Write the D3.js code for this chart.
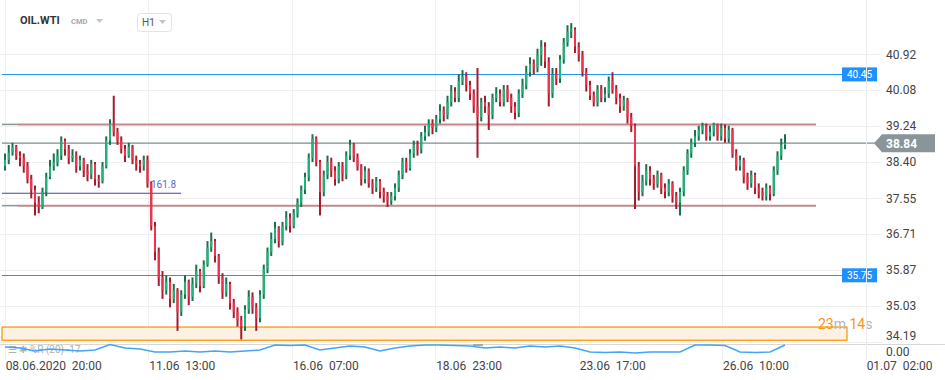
<!DOCTYPE html>
<html>
<head>
<meta charset="utf-8">
<script src="https://cdn.jsdelivr.net/npm/d3@7"></script>
<style>
    body { margin: 0; background: #fff; }
    svg { display: block; font-family: Roboto, "Open Sans", sans-serif; }
</style>
</head>
<body>
<svg id="chart" width="945" height="380"></svg>
<script>
// OIL.WTI H1 candles (open = previous close)
const firstOpen = 38.30;
const closes = [
    38.45, 38.62, 38.75, 38.55, 38.50, 38.30, 38.00, 37.75, 37.45, 37.35,
    37.70, 38.05, 38.30, 38.40, 38.55, 38.90, 38.70, 38.50, 38.55, 38.30,
    38.45, 38.20, 38.10, 38.35, 38.00, 37.95, 38.30, 38.90, 39.30, 39.10,
    38.90, 38.70, 38.55, 38.75, 38.45, 38.35, 38.30, 38.45, 37.90, 36.90,
    36.30, 35.70, 35.40, 35.60, 35.20, 35.40, 34.90, 35.30, 35.60, 35.25,
    35.55, 35.85, 35.50, 36.00, 36.40, 36.55, 36.20, 35.70, 35.35, 35.55,
    35.10, 34.90, 34.70, 34.55, 34.95, 35.25, 35.00, 34.75, 35.30, 35.90,
    36.30, 36.60, 36.85, 36.55, 36.90, 37.10, 36.90, 37.20, 37.45, 37.75,
    38.05, 38.50, 38.95, 38.40, 37.70, 38.10, 38.40, 38.20, 38.00, 38.30,
    38.10, 38.55, 38.80, 38.50, 38.30, 38.00, 38.20, 37.90, 37.80, 37.95,
    37.70, 37.60, 37.50, 37.60, 37.80, 38.10, 38.40, 38.25, 38.60, 38.80,
    38.70, 39.00, 39.10, 39.30, 39.20, 39.40, 39.60, 39.50, 39.80, 40.05,
    39.90, 40.30, 40.40, 40.20, 40.00, 39.70, 39.45, 39.80, 39.70, 39.50,
    39.90, 40.00, 39.80, 40.10, 39.90, 39.70, 39.55, 40.00, 40.20, 40.50,
    40.70, 40.60, 40.90, 41.10, 40.75, 40.00, 40.45, 40.35, 40.80, 41.20,
    41.45, 41.50, 41.10, 40.90, 40.50, 40.20, 39.95, 39.80, 40.10, 39.90,
    40.00, 40.30, 40.10, 39.90, 39.70, 39.85, 39.45, 39.25, 38.30, 37.70,
    37.95, 38.20, 38.00, 37.90, 38.10, 37.80, 37.70, 37.90, 37.60, 37.45,
    37.70, 38.20, 38.60, 38.85, 39.00, 39.15, 39.25, 39.00, 39.10, 39.28,
    39.00, 39.20, 38.95, 39.15, 38.60, 38.30, 38.45, 38.05, 37.90, 38.10,
    37.80, 37.70, 37.60, 37.80, 37.65, 38.20, 38.55, 38.80, 38.84
];
const highs = [
    38.60, 38.80, 38.85, 38.80, 38.65, 38.60, 38.40, 38.10, 37.85, 37.60,
    37.80, 38.15, 38.45, 38.60, 38.70, 39.00, 38.95, 38.80, 38.70, 38.65,
    38.55, 38.50, 38.35, 38.45, 38.40, 38.10, 38.40, 39.00, 39.40, 39.95,
    39.20, 39.00, 38.80, 38.85, 38.80, 38.55, 38.45, 38.55, 38.55, 37.95,
    37.00, 36.40, 35.85, 35.75, 35.70, 35.55, 35.45, 35.40, 35.75, 35.65,
    35.70, 36.00, 35.90, 36.10, 36.55, 36.75, 36.60, 36.25, 35.80, 35.70,
    35.60, 35.20, 35.00, 34.80, 35.05, 35.40, 35.35, 35.10, 35.40, 36.00,
    36.40, 36.75, 37.00, 36.90, 37.00, 37.25, 37.20, 37.30, 37.55, 37.85,
    38.15, 38.60, 39.05, 39.00, 38.45, 38.20, 38.55, 38.50, 38.30, 38.40,
    38.40, 38.65, 38.92, 38.85, 38.60, 38.35, 38.30, 38.25, 38.00, 38.05,
    38.00, 37.80, 37.70, 37.70, 37.90, 38.20, 38.50, 38.50, 38.70, 38.90,
    38.90, 39.10, 39.25, 39.40, 39.40, 39.50, 39.75, 39.70, 39.95, 40.20,
    40.15, 40.45, 40.55, 40.50, 40.30, 40.10, 40.60, 39.90, 39.95, 39.80,
    40.00, 40.15, 40.10, 40.20, 40.20, 40.00, 39.80, 40.10, 40.35, 40.65,
    40.85, 40.80, 41.05, 41.25, 41.20, 40.85, 40.60, 40.60, 40.90, 41.30,
    41.60, 41.65, 41.55, 41.20, 41.00, 40.60, 40.30, 40.05, 40.20, 40.20,
    40.15, 40.40, 40.50, 40.20, 40.00, 39.95, 39.90, 39.55, 39.30, 38.40,
    38.10, 38.35, 38.30, 38.10, 38.20, 38.15, 37.90, 38.00, 37.95, 37.70,
    37.80, 38.30, 38.70, 38.95, 39.15, 39.25, 39.32, 39.30, 39.25, 39.32,
    39.30, 39.30, 39.28, 39.25, 39.20, 38.70, 38.55, 38.50, 38.15, 38.20,
    38.15, 37.90, 37.80, 37.90, 37.85, 38.30, 38.65, 38.95, 39.05
];
const lows = [
    38.20, 38.35, 38.55, 38.45, 38.30, 38.15, 37.90, 37.55, 37.15, 37.20,
    37.30, 37.60, 38.00, 38.20, 38.30, 38.45, 38.55, 38.35, 38.40, 38.15,
    38.20, 38.05, 37.95, 38.00, 37.85, 37.80, 37.90, 38.25, 38.80, 39.00,
    38.80, 38.60, 38.40, 38.50, 38.35, 38.20, 38.15, 38.20, 37.80, 36.80,
    36.10, 35.50, 35.20, 35.30, 35.00, 35.10, 34.45, 34.80, 35.20, 35.05,
    35.15, 35.45, 35.35, 35.45, 35.95, 36.30, 36.05, 35.55, 35.20, 35.25,
    34.95, 34.75, 34.55, 34.25, 34.45, 34.85, 34.85, 34.45, 34.65, 35.20,
    35.80, 36.20, 36.50, 36.40, 36.45, 36.80, 36.75, 36.85, 37.10, 37.35,
    37.65, 37.95, 38.40, 38.30, 37.15, 37.60, 38.00, 38.05, 37.85, 37.90,
    37.95, 38.00, 38.45, 38.40, 38.20, 37.85, 37.90, 37.80, 37.65, 37.70,
    37.55, 37.45, 37.35, 37.40, 37.50, 37.70, 38.00, 38.15, 38.20, 38.50,
    38.55, 38.60, 38.90, 39.00, 39.05, 39.10, 39.30, 39.35, 39.40, 39.70,
    39.80, 39.80, 40.20, 40.05, 39.85, 39.55, 38.50, 39.35, 39.55, 39.15,
    39.40, 39.80, 39.70, 39.70, 39.80, 39.55, 39.40, 39.45, 39.90, 40.10,
    40.40, 40.45, 40.50, 40.65, 40.60, 39.70, 39.90, 40.20, 40.25, 40.70,
    41.10, 41.30, 40.95, 40.75, 40.40, 40.05, 39.85, 39.70, 39.70, 39.80,
    39.80, 39.90, 40.00, 39.75, 39.55, 39.60, 39.30, 39.10, 37.30, 37.50,
    37.60, 37.85, 37.85, 37.75, 37.80, 37.65, 37.55, 37.60, 37.45, 37.30,
    37.15, 37.60, 38.10, 38.50, 38.75, 38.90, 39.05, 38.90, 38.90, 39.00,
    38.90, 38.90, 38.85, 38.85, 38.50, 38.20, 38.20, 37.90, 37.75, 37.80,
    37.65, 37.55, 37.50, 37.50, 37.50, 37.60, 38.10, 38.45, 38.70
];

// Williams %R (20), sampled every 4th candle
const wrEvery = 4;
const wrValues = [
    -21, -29, -50, -36, -43, -50, -43, -4, -29, -36,
    -57, -57, -50, -57, -50, -57, -50, -43, -7, -11,
    -7, -43, -29, -14, -21, -50, -29, -14, -7, -7,
    -11, -14, -29, -21, -29, -14, -21, -14, -29, -57,
    -61, -57, -64, -57, -57, -57, -7, -7, -11, -57,
    -61, -57, -7
];

const priceTicks = [40.92, 40.08, 39.24, 38.40, 37.55, 36.71, 35.87, 35.03, 34.19];
const dateLabels = ['08.06.2020  20:00', '11.06  13:00', '16.06  07:00', '18.06  23:00',
    '23.06  17:00', '26.06  10:00', '01.07  02:00'];
const dateIndex = [-0.1, 38.2, 76.5, 114.7, 153, 191.2, 229.5];

const blueLevels = [40.45, 35.75];
const redLevels = [39.28, 37.38];
const fibLevel = 37.67;
const fibLabel = '161.8';
const lastPrice = 38.84;
const zone = [34.23, 34.54];

const svg = d3.select('#chart');
const W = 945;
const plotRight = 866;
const mainBottom = 344;

const x = d3.scaleLinear().domain([0, closes.length - 1]).range([5, 785]);
const y = d3.scaleLinear().domain([34.19, 40.92]).range([342, 54.3]);
const wrY = d3.scaleLinear().domain([0, -100]).range([344, 358]);

// grid
const grid = svg.append('g').attr('class', 'grid');
grid.selectAll('line.h').data(priceTicks).join('line')
    .attr('x1', 0).attr('x2', 882)
    .attr('y1', d => Math.round(y(d)) + 0.5).attr('y2', d => Math.round(y(d)) + 0.5)
    .attr('stroke', '#f0f0f0');
grid.selectAll('line.v').data(dateIndex).join('line')
    .attr('x1', d => Math.round(x(d)) + 0.5).attr('x2', d => Math.round(x(d)) + 0.5)
    .attr('y1', 0).attr('y2', 360)
    .attr('stroke', '#f0f0f0');

// orange zone
svg.append('rect')
    .attr('x', 2).attr('width', 845)
    .attr('y', y(zone[1])).attr('height', y(zone[0]) - y(zone[1]))
    .attr('fill', '#fdf1e3').attr('stroke', '#f59300').attr('stroke-width', 1.2);

// level lines
svg.selectAll('line.blue').data(blueLevels).join('line')
    .attr('x1', 2).attr('x2', 842)
    .attr('y1', d => Math.round(y(d)) + 0.5).attr('y2', d => Math.round(y(d)) + 0.5)
    .attr('stroke', '#2196f3');

svg.selectAll('line.red').data(redLevels).join('line')
    .attr('x1', 18).attr('x2', 816)
    .attr('y1', d => y(d)).attr('y2', d => y(d))
    .attr('stroke', '#c08a8a').attr('stroke-width', 2);
svg.selectAll('line.redstub').data(redLevels).join('line')
    .attr('x1', 2).attr('x2', 18)
    .attr('y1', d => y(d)).attr('y2', d => y(d))
    .attr('stroke', '#8a9499').attr('stroke-width', 1.5);

svg.append('line')
    .attr('x1', 2).attr('x2', 181)
    .attr('y1', y(fibLevel)).attr('y2', y(fibLevel))
    .attr('stroke', '#3949ab').attr('stroke-width', 1.2);

svg.append('line')
    .attr('x1', 2).attr('x2', 876)
    .attr('y1', y(lastPrice)).attr('y2', y(lastPrice))
    .attr('stroke', '#7f8b91').attr('stroke-width', 1.2);

// candles
const candles = svg.append('g').attr('class', 'candles')
    .selectAll('g').data(closes).join('g');
const openOf = i => (i === 0 ? firstOpen : closes[i - 1]);
candles.append('rect')
    .attr('x', (d, i) => x(i) - 1).attr('width', 2)
    .attr('y', (d, i) => y(highs[i]))
    .attr('height', (d, i) => y(lows[i]) - y(highs[i]))
    .attr('fill', (d, i) => d >= openOf(i) ? '#19704a' : '#a61c2e');
candles.append('rect')
    .attr('x', (d, i) => x(i) - 1).attr('width', 2)
    .attr('y', (d, i) => y(Math.max(d, openOf(i))))
    .attr('height', (d, i) => Math.max(1, Math.abs(y(d) - y(openOf(i)))))
    .attr('fill', (d, i) => d >= openOf(i) ? '#20b27a' : '#f2314c');

svg.append('text')
    .attr('x', 151).attr('y', y(fibLevel) - 5)
    .attr('font-size', 10).attr('fill', '#5c6bc0')
    .text(fibLabel);

// price axis labels
svg.selectAll('text.tick').data(priceTicks).join('text')
    .attr('x', 886).attr('y', d => Math.min(y(d), 336))
    .attr('dy', '0.35em')
    .attr('font-size', 12).attr('fill', '#444')
    .text(d => d.toFixed(2));

// blue level tags
const tags = svg.selectAll('g.tag').data(blueLevels).join('g')
    .attr('transform', d => `translate(842,${y(d) - 7})`);
tags.append('rect').attr('width', 35).attr('height', 14).attr('fill', '#1e90ff');
tags.append('text').attr('x', 17.5).attr('y', 7).attr('dy', '0.35em')
    .attr('text-anchor', 'middle').attr('font-size', 10).attr('fill', '#fff')
    .text(d => d.toFixed(2));

// last price tag
const ly = y(lastPrice);
svg.append('path')
    .attr('d', `M874,${ly} L882,${ly - 9} L935,${ly - 9} L935,${ly + 9} L882,${ly + 9} Z`)
    .attr('fill', '#8a9599');
svg.append('text')
    .attr('x', 886).attr('y', ly).attr('dy', '0.36em')
    .attr('font-size', 12).attr('font-weight', 'bold').attr('fill', '#fff')
    .text(lastPrice.toFixed(2));

// countdown
const timer = svg.append('text').attr('x', 818).attr('y', 329).attr('font-size', 14);
timer.append('tspan').attr('fill', '#f7941d').text('23');
timer.append('tspan').attr('fill', '#b5b5b5').text('m ');
timer.append('tspan').attr('fill', '#f7941d').text('14');
timer.append('tspan').attr('fill', '#b5b5b5').text('s');

// panel separators
svg.append('line').attr('x1', 0).attr('x2', W).attr('y1', mainBottom + 0.5).attr('y2', mainBottom + 0.5)
    .attr('stroke', '#d8d8d8');
svg.append('line').attr('x1', plotRight + 0.5).attr('x2', plotRight + 0.5).attr('y1', 0).attr('y2', 360)
    .attr('stroke', '#ececec');
svg.append('rect').attr('x', 473).attr('y', 344).attr('width', 10).attr('height', 2).attr('fill', '#aaa');

// %R indicator
svg.append('text')
    .attr('x', 8).attr('y', 353)
    .attr('font-size', 10).attr('fill', '#b0b0b0')
    .text('\u2630 \u2731 %R (20) -17');
svg.append('path')
    .datum(wrValues)
    .attr('d', d3.line().x((d, i) => x(i * wrEvery)).y(d => wrY(d)))
    .attr('fill', 'none').attr('stroke', '#42a5f5').attr('stroke-width', 1.5);
svg.append('text')
    .attr('x', 886).attr('y', 351.5).attr('dy', '0.35em')
    .attr('font-size', 12).attr('fill', '#444')
    .text('0.00');

// date axis
svg.selectAll('text.date').data(dateLabels).join('text')
    .attr('x', (d, i) => x(dateIndex[i]) + 1).attr('y', 370)
    .attr('font-size', 12).attr('fill', '#444')
    .style('white-space', 'pre')
    .text(d => d);

// header
svg.append('text').attr('x', 20).attr('y', 24)
    .attr('font-size', 11).attr('font-weight', 'bold').attr('fill', '#333')
    .text('OIL.WTI');
svg.append('text').attr('x', 71).attr('y', 24)
    .attr('font-size', 7.5).attr('font-weight', 'bold').attr('fill', '#a8a8a8')
    .text('CMD');
svg.append('path').attr('d', 'M96,19 L103,19 L99.5,23 Z').attr('fill', '#c4c4c4');
svg.append('rect').attr('x', 137.5).attr('y', 13.5).attr('width', 34).attr('height', 18).attr('rx', 3)
    .attr('fill', '#fff').attr('stroke', '#e2e2e2');
svg.append('text').attr('x', 142).attr('y', 26)
    .attr('font-size', 10).attr('fill', '#555')
    .text('H1');
svg.append('path').attr('d', 'M159,20 L166,20 L162.5,24 Z').attr('fill', '#c4c4c4');
</script>
</body>
</html>
